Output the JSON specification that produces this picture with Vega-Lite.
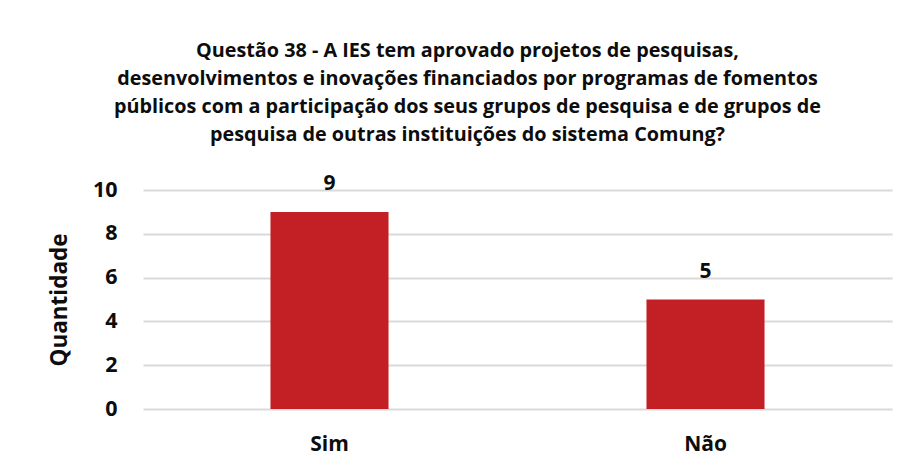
{
  "$schema": "https://vega.github.io/schema/vega-lite/v6.json",
  "width": 749,
  "height": 219,
  "autosize": {"type": "none"},
  "padding": {"left": 143, "top": 190, "right": 19, "bottom": 59},
  "background": "white",
  "title": {
    "text": [
      "Questão 38 - A IES tem aprovado projetos de pesquisas,",
      "desenvolvimentos e inovações financiados por programas de fomentos",
      "públicos com a participação dos seus grupos de pesquisa e de grupos de",
      "pesquisa de outras instituições do sistema Comung?"
    ],
    "font": "Open Sans",
    "fontSize": 19.8,
    "fontWeight": "bold",
    "color": "#0d0d0d",
    "lineHeight": 28,
    "anchor": "middle",
    "dx": -50,
    "offset": 28
  },
  "data": {
    "values": [
      {"resposta": "Sim", "quantidade": 9},
      {"resposta": "Não", "quantidade": 5}
    ]
  },
  "encoding": {
    "x": {
      "field": "resposta",
      "type": "nominal",
      "sort": null,
      "scale": {"paddingInner": 0.686, "paddingOuter": 0.339},
      "axis": {
        "title": null,
        "labelAngle": 0,
        "labelFont": "Open Sans",
        "labelFontSize": 21,
        "labelFontWeight": "bold",
        "labelColor": "#0d0d0d",
        "labelPadding": 24,
        "ticks": false,
        "domain": false
      }
    },
    "y": {
      "field": "quantidade",
      "type": "quantitative",
      "scale": {"domain": [0, 10]},
      "axis": {
        "title": "Quantidade",
        "titleFont": "Open Sans",
        "titleFontSize": 22.5,
        "titleFontWeight": "bold",
        "titleColor": "#0d0d0d",
        "titlePadding": 21,
        "values": [0, 2, 4, 6, 8, 10],
        "labelFont": "Open Sans",
        "labelFontSize": 21.5,
        "labelFontWeight": "bold",
        "labelColor": "#0d0d0d",
        "labelPadding": 26,
        "ticks": false,
        "domain": false,
        "gridColor": "#d9d9d9",
        "gridWidth": 2
      }
    }
  },
  "layer": [
    {"mark": {"type": "bar", "color": "#c32026"}},
    {
      "mark": {
        "type": "text",
        "baseline": "alphabetic",
        "dy": -22,
        "font": "Open Sans",
        "fontSize": 21,
        "fontWeight": "bold",
        "color": "#0d0d0d"
      },
      "encoding": {"text": {"field": "quantidade", "type": "quantitative"}}
    }
  ],
  "config": {"view": {"stroke": null}}
}
